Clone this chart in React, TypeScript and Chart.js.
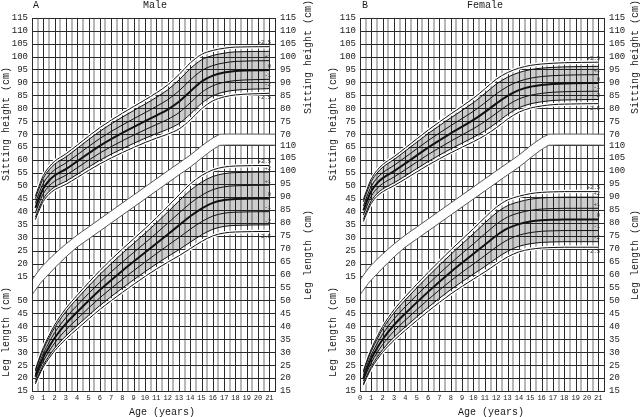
import React, { useEffect, useRef } from 'react';
import { Chart, registerables } from 'chart.js';
Chart.register(...registerables);

// ---------- data ----------
const AGES = [0.3, 0.6, 1, 1.5, 2, 3, 4, 6, 8, 10, 11, 12, 13, 14, 15, 16, 17, 18, 21];
const X_TICKS = [0, 1, 2, 3, 4, 5, 6, 7, 8, 9, 10, 11, 12, 13, 14, 15, 16, 17, 18, 19, 20, 21];
const SIT_OFFSET = 44.25; // vertical shift of the sitting-height grid relative to the leg-length grid
const LEFT_SIT_TICKS = [15, 20, 25, 30, 35, 40, 45, 50, 55, 60, 65, 70, 75, 80, 85, 90, 95, 100, 105, 110, 115];
const LEFT_LEG_TICKS = [15, 20, 25, 30, 35, 40, 45, 50];
const RIGHT_SIT_TICKS = [70, 75, 80, 85, 90, 95, 100, 105, 110, 115];
const RIGHT_LEG_TICKS = [15, 20, 25, 30, 35, 40, 45, 50, 55, 60, 65, 70, 75, 80, 85, 90, 95, 100, 105, 110];
const Z_LABELS = ['-2.5', '-2', '-1', '0', '+1', '+2', '+2.5'];

// Male sitting height (cm)
const mSitM25 = [37.0, 40.25, 44, 46.75, 48.5, 50.6, 53.25, 58.5, 62.9, 66.75, 68.45, 70, 72, 75.5, 79.8, 82.85, 84.4, 85.15, 85.8];
const mSitM2 = [37.9, 41.2, 45, 47.8, 49.6, 51.8, 54.5, 59.9, 64.4, 68.4, 70.2, 71.9, 74.1, 77.7, 81.9, 84.8, 86.3, 87, 87.6];
const mSitM1 = [39.7, 43.1, 47, 49.9, 51.8, 54.15, 57, 62.7, 67.45, 71.7, 73.7, 75.7, 78.3, 82.1, 86.1, 88.7, 90.05, 90.7, 91.2];
const mSit0 = [41.5, 45, 49, 52, 54, 56.5, 59.5, 65.5, 70.5, 75, 77.2, 79.5, 82.5, 86.5, 90.3, 92.6, 93.8, 94.4, 94.8];
const mSitP1 = [43.3, 46.9, 51, 54.1, 56.2, 58.85, 62, 68.3, 73.55, 78.3, 80.7, 83.3, 86.7, 90.9, 94.5, 96.5, 97.55, 98.1, 98.4];
const mSitP2 = [45.1, 48.8, 53, 56.2, 58.4, 61.2, 64.5, 71.1, 76.6, 81.6, 84.2, 87.1, 90.9, 95.3, 98.7, 100.4, 101.3, 101.8, 102];
const mSitP25 = [46.0, 49.75, 54, 57.25, 59.5, 62.4, 65.75, 72.5, 78.1, 83.25, 85.95, 89, 93, 97.5, 100.8, 102.35, 103.2, 103.65, 103.8];

// Male leg length (cm)
const mLegM25 = [17.75, 20.75, 24.25, 27.6, 30.5, 35.1, 39, 46.5, 53.1, 59.25, 62.1, 64.75, 67.25, 70, 72.75, 74.95, 76.05, 76.45, 76.65];
const mLegM2 = [18.3, 21.4, 25, 28.5, 31.5, 36.3, 40.3, 48, 54.8, 61.1, 64.1, 66.9, 69.6, 72.5, 75.3, 77.5, 78.6, 79, 79.2];
const mLegM1 = [19.4, 22.7, 26.5, 30.25, 33.5, 38.65, 42.9, 51, 58.15, 64.8, 68.05, 71.2, 74.3, 77.5, 80.4, 82.6, 83.7, 84.1, 84.3];
const mLeg0 = [20.5, 24, 28, 32, 35.5, 41, 45.5, 54, 61.5, 68.5, 72, 75.5, 79, 82.5, 85.5, 87.7, 88.8, 89.2, 89.4];
const mLegP1 = [21.6, 25.3, 29.5, 33.75, 37.5, 43.35, 48.1, 57, 64.85, 72.2, 75.95, 79.8, 83.7, 87.5, 90.6, 92.8, 93.9, 94.3, 94.5];
const mLegP2 = [22.7, 26.6, 31, 35.5, 39.5, 45.7, 50.7, 60, 68.2, 75.9, 79.9, 84.1, 88.4, 92.5, 95.7, 97.9, 99, 99.4, 99.6];
const mLegP25 = [23.25, 27.25, 31.75, 36.4, 40.5, 46.9, 52, 61.5, 69.9, 77.75, 81.9, 86.25, 90.75, 95, 98.25, 100.45, 101.55, 101.95, 102.15];

// Female sitting height (cm)
const fSitM25 = [36.25, 39.5, 43.25, 46, 47.75, 50.1, 52.7, 58.05, 62.8, 67.1, 69.5, 72.45, 75.8, 78.5, 80.05, 80.9, 81.4, 81.6, 81.8];
const fSitM2 = [37.1, 40.4, 44.2, 47, 48.8, 51.2, 53.9, 59.4, 64.3, 68.8, 71.3, 74.3, 77.6, 80.2, 81.7, 82.5, 83, 83.2, 83.4];
const fSitM1 = [38.8, 42.2, 46.1, 49, 50.9, 53.45, 56.3, 62.1, 67.3, 72.15, 74.9, 78.05, 81.2, 83.6, 85, 85.75, 86.2, 86.4, 86.6];
const fSit0 = [40.5, 44, 48, 51, 53, 55.7, 58.7, 64.8, 70.3, 75.5, 78.5, 81.8, 84.8, 87, 88.3, 89, 89.4, 89.6, 89.8];
const fSitP1 = [42.2, 45.8, 49.9, 53, 55.1, 57.95, 61.1, 67.5, 73.3, 78.85, 82.1, 85.55, 88.4, 90.4, 91.6, 92.25, 92.6, 92.8, 93];
const fSitP2 = [43.9, 47.6, 51.8, 55, 57.2, 60.2, 63.5, 70.2, 76.3, 82.2, 85.7, 89.3, 92, 93.8, 94.9, 95.5, 95.8, 96, 96.2];
const fSitP25 = [44.75, 48.5, 52.75, 56, 58.25, 61.3, 64.7, 71.55, 77.8, 83.9, 87.5, 91.2, 93.8, 95.5, 96.55, 97.1, 97.4, 97.6, 97.8];

// Female leg length (cm)
const fLegM25 = [17.25, 20.25, 23.75, 27.1, 30, 34.6, 38.5, 45.8, 52.5, 58.25, 61, 64, 66.8, 68.75, 69.75, 70.25, 70.45, 70.55, 70.55];
const fLegM2 = [17.8, 20.9, 24.5, 28, 31, 35.8, 39.8, 47.3, 54.2, 60.2, 63.1, 66.2, 69, 70.9, 71.9, 72.4, 72.6, 72.7, 72.7];
const fLegM1 = [18.9, 22.2, 26, 29.75, 33, 38.15, 42.4, 50.3, 57.6, 64.1, 67.3, 70.6, 73.4, 75.2, 76.2, 76.7, 76.9, 77, 77];
const fLeg0 = [20, 23.5, 27.5, 31.5, 35, 40.5, 45, 53.3, 61, 68, 71.5, 75, 77.8, 79.5, 80.5, 81, 81.2, 81.3, 81.3];
const fLegP1 = [21.1, 24.8, 29, 33.25, 37, 42.85, 47.6, 56.3, 64.4, 71.9, 75.7, 79.4, 82.2, 83.8, 84.8, 85.3, 85.5, 85.6, 85.6];
const fLegP2 = [22.2, 26.1, 30.5, 35, 39, 45.2, 50.2, 59.3, 67.8, 75.8, 79.9, 83.8, 86.6, 88.1, 89.1, 89.6, 89.8, 89.9, 89.9];
const fLegP25 = [22.75, 26.75, 31.25, 35.9, 40, 46.4, 51.5, 60.8, 69.5, 77.75, 82, 86, 88.8, 90.25, 91.25, 91.75, 91.95, 92.05, 92.05];

// White separating band: upper edge in sitting-height cm, lower edge in leg-length cm
const BAND_AGES = [0, 0.5, 1, 2, 3, 4, 5, 6, 7, 8, 9, 10, 11, 12, 13, 14, 15, 16, 16.5, 17, 21.5];
const maleBandTop = [13.6, 16.7, 19.4, 23.7, 27.55, 31.0, 34.1, 37.2, 40.3, 43.4, 46.5, 49.6, 52.7, 55.8, 58.85, 61.9, 65.4, 68.5, 69.6, 70, 70];
const maleBandBottom = [52.1, 55.2, 57.9, 62.5, 66.8, 70.6, 73.7, 76.8, 79.9, 83.0, 86.1, 89.2, 92.3, 95.4, 98.5, 101.5, 105.0, 108.3, 109.5, 110, 110];
const femaleBandTop = [13.6, 16.7, 19.4, 23.7, 27.55, 31.0, 34.1, 37.2, 40.3, 43.4, 46.5, 49.6, 52.7, 55.8, 58.85, 61.9, 65.4, 68.5, 69.6, 70, 70];
const femaleBandBottom = [52.1, 55.2, 57.9, 62.5, 66.8, 70.6, 73.7, 76.8, 79.9, 83.0, 86.1, 89.2, 92.3, 95.4, 98.5, 101.5, 105.0, 108.3, 109.5, 110, 110];

const PANELS = [
  {
    letter: 'A', name: 'Male',
    sit: [mSitM25, mSitM2, mSitM1, mSit0, mSitP1, mSitP2, mSitP25],
    leg: [mLegM25, mLegM2, mLegM1, mLeg0, mLegP1, mLegP2, mLegP25],
    bandTop: maleBandTop, bandBottom: maleBandBottom,
    leftW: 32, rightW: 45, letterX: 33, nameX: 155, leftTitleX: 6, rightTitleX: 308, ageX: 162,
  },
  {
    letter: 'B', name: 'Female',
    sit: [fSitM25, fSitM2, fSitM1, fSit0, fSitP1, fSitP2, fSitP25],
    leg: [fLegM25, fLegM2, fLegM1, fLeg0, fLegP1, fLegP2, fLegP25],
    bandTop: femaleBandTop, bandBottom: femaleBandBottom,
    leftW: 40, rightW: 36, letterX: 42, nameX: 165, leftTitleX: 13, rightTitleX: 315, ageX: 171,
  },
];

// ---------- drawing helpers ----------
const FONT = "'Liberation Mono', 'DejaVu Sans Mono', monospace";
const INK = '#1a1a1a';

function smoothThrough(ctx: CanvasRenderingContext2D, pts: number[][], move: boolean) {
  if (move) ctx.moveTo(pts[0][0], pts[0][1]);
  else ctx.lineTo(pts[0][0], pts[0][1]);
  for (let i = 0; i < pts.length - 1; i++) {
    const p0 = pts[i - 1] || pts[i];
    const p1 = pts[i];
    const p2 = pts[i + 1];
    const p3 = pts[i + 2] || p2;
    ctx.bezierCurveTo(
      p1[0] + (p2[0] - p0[0]) / 6, p1[1] + (p2[1] - p0[1]) / 6,
      p2[0] - (p3[0] - p1[0]) / 6, p2[1] - (p3[1] - p1[1]) / 6,
      p2[0], p2[1]
    );
  }
}

const gridPlugin = {
  id: 'customGrid',
  beforeDatasetsDraw(chart: any, _a: any, opts: any) {
    const p = opts.panel;
    const { ctx, chartArea: ca } = chart;
    const xs = chart.scales.x;
    const ys = chart.scales.y;
    const L = ca.left, R = ca.right, T = ca.top, B = ca.bottom;
    const top = BAND_AGES.map((a, i) => [xs.getPixelForValue(a), ys.getPixelForValue(p.bandTop[i] + SIT_OFFSET)]);
    const bot = BAND_AGES.map((a, i) => [xs.getPixelForValue(a), ys.getPixelForValue(p.bandBottom[i])]);
    ctx.save();
    ctx.fillStyle = '#fff';
    ctx.fillRect(L, T, R - L, B - T);
    ctx.beginPath();
    ctx.rect(L, T, R - L, B - T);
    ctx.clip();
    // vertical lines every half year
    for (let a = 0.5; a < 21.5; a += 1) {
      const x = Math.round(xs.getPixelForValue(a));
      ctx.strokeStyle = '#b8b8b8';
      ctx.lineWidth = 2;
      ctx.beginPath(); ctx.moveTo(x, T); ctx.lineTo(x, B); ctx.stroke();
    }
    for (let a = 1; a < 21.5; a += 1) {
      const x = Math.round(xs.getPixelForValue(a)) + 0.5;
      ctx.strokeStyle = '#2a2a2a';
      ctx.lineWidth = 1;
      ctx.beginPath(); ctx.moveTo(x, T); ctx.lineTo(x, B); ctx.stroke();
    }
    // sitting grid (above band)
    ctx.save();
    ctx.beginPath();
    smoothThrough(ctx, top, true);
    ctx.lineTo(R + 2, T - 2); ctx.lineTo(L - 2, T - 2); ctx.closePath();
    ctx.clip();
    ctx.strokeStyle = '#2a2a2a'; ctx.lineWidth = 1;
    LEFT_SIT_TICKS.forEach((v) => {
      const y = Math.round(ys.getPixelForValue(v + SIT_OFFSET)) + 0.5;
      ctx.beginPath(); ctx.moveTo(L, y); ctx.lineTo(R, y); ctx.stroke();
    });
    ctx.restore();
    // leg grid (below band)
    ctx.save();
    ctx.beginPath();
    smoothThrough(ctx, bot, true);
    ctx.lineTo(R + 2, B + 2); ctx.lineTo(L - 2, B + 2); ctx.closePath();
    ctx.clip();
    ctx.strokeStyle = '#2a2a2a'; ctx.lineWidth = 1;
    RIGHT_LEG_TICKS.forEach((v) => {
      const y = Math.round(ys.getPixelForValue(v)) + 0.5;
      ctx.beginPath(); ctx.moveTo(L, y); ctx.lineTo(R, y); ctx.stroke();
    });
    ctx.restore();
    // band
    ctx.beginPath();
    smoothThrough(ctx, top, true);
    smoothThrough(ctx, bot.slice().reverse(), false);
    ctx.closePath();
    ctx.fillStyle = '#fff';
    ctx.fill();
    ctx.strokeStyle = '#555'; ctx.lineWidth = 1;
    ctx.beginPath(); smoothThrough(ctx, top, true); ctx.stroke();
    ctx.beginPath(); smoothThrough(ctx, bot, true); ctx.stroke();
    ctx.restore();
    // frame
    ctx.save();
    ctx.strokeStyle = '#2a2a2a'; ctx.lineWidth = 1;
    ctx.strokeRect(Math.round(L) + 0.5, Math.round(T) + 0.5, Math.round(R - L), Math.round(B - T));
    ctx.restore();
  },
  afterDatasetsDraw(chart: any, _a: any, opts: any) {
    const p = opts.panel;
    const { ctx, chartArea: ca } = chart;
    const ys = chart.scales.y;
    const last = AGES.length - 1;
    ctx.save();
    ctx.font = `5.5px ${FONT}`;
    ctx.fillStyle = '#333';
    ctx.textAlign = 'right';
    const put = (arr: number[][], off: number, skipPlus2: boolean) => {
      arr.forEach((s, k) => {
        if (skipPlus2 && k === 5) return;
        const y = ys.getPixelForValue(s[last] + off);
        if (k === 0) { ctx.textBaseline = 'top'; ctx.fillText(Z_LABELS[k], ca.right - 4, y + 2); }
        else { ctx.textBaseline = 'bottom'; ctx.fillText(Z_LABELS[k], ca.right - 4, y - 1); }
      });
    };
    put(p.sit, SIT_OFFSET, true);
    put(p.leg, 0, false);
    ctx.restore();
  },
  afterDraw(chart: any, _a: any, opts: any) {
    const p = opts.panel;
    const { ctx } = chart;
    ctx.save();
    ctx.fillStyle = INK;
    ctx.font = `10px ${FONT}`;
    ctx.textBaseline = 'middle';
    ctx.textAlign = 'left';
    ctx.fillText(p.letter, p.letterX, 5);
    ctx.textAlign = 'center';
    ctx.fillText(p.name, p.nameX, 5);
    ctx.fillText('Age (years)', p.ageX, 412);
    const vt = (t: string, x: number, y: number) => {
      ctx.save(); ctx.translate(x, y); ctx.rotate(-Math.PI / 2); ctx.fillText(t, 0, 0); ctx.restore();
    };
    vt('Sitting height (cm)', p.leftTitleX, 124);
    vt('Leg length (cm)', p.leftTitleX, 332);
    vt('Sitting height (cm)', p.rightTitleX, 57);
    vt('Leg length (cm)', p.rightTitleX, 255);
    ctx.restore();
  },
};

function buildConfig(p: any) {
  const datasets: any[] = [];
  const addRegion = (series: number[][], off: number) => {
    const mk = (arr: number[]) => AGES.map((a, i) => ({ x: a, y: arr[i] + off }));
    [0, 6].forEach((k) => datasets.push({
      data: mk(series[k]), borderColor: '#ffffff', borderWidth: 3.5, pointRadius: 0,
      cubicInterpolationMode: 'monotone', fill: false, order: 5,
    }));
    const base = datasets.length;
    series.forEach((arr, k) => datasets.push({
      data: mk(arr), borderColor: '#111', borderWidth: k === 3 ? 2 : 1, pointRadius: 0,
      cubicInterpolationMode: 'monotone', order: k === 3 ? 0 : 1,
      fill: k === 5 ? base + 1 : false, backgroundColor: 'rgba(0,0,0,0.2)',
    }));
  };
  addRegion(p.sit, SIT_OFFSET);
  addRegion(p.leg, 0);

  const leftVals = [...LEFT_LEG_TICKS, ...LEFT_SIT_TICKS.map((v) => v + SIT_OFFSET)];
  const rightVals = [...RIGHT_LEG_TICKS, ...RIGHT_SIT_TICKS.map((v) => v + SIT_OFFSET)];
  const yMin = 15, yMax = 115 + SIT_OFFSET;
  const tickFont = { family: FONT, size: 9 };
  return {
    type: 'line',
    data: { datasets },
    plugins: [gridPlugin],
    options: {
      responsive: false,
      animation: false,
      devicePixelRatio: 1,
      events: [],
      layout: { padding: { top: 17.7, bottom: 0, left: 0, right: 0 } },
      plugins: {
        legend: { display: false },
        tooltip: { enabled: false },
        title: { display: false },
        customGrid: { panel: p },
      },
      scales: {
        x: {
          type: 'linear', min: 0, max: 21.5, position: 'bottom',
          grid: { display: false, drawTicks: false }, border: { display: false },
          ticks: { font: { family: FONT, size: 7 }, color: INK, padding: 3, autoSkip: false, maxRotation: 0, callback: (v: any) => String(v) },
          afterBuildTicks: (s: any) => { s.ticks = X_TICKS.map((v) => ({ value: v })); },
          afterFit: (s: any) => { s.height = 26; },
        },
        y: {
          type: 'linear', min: yMin, max: yMax, position: 'left',
          grid: { display: false, drawTicks: false }, border: { display: false },
          ticks: {
            font: tickFont, color: INK, padding: 4, autoSkip: false,
            callback: (v: any) => { const n = Number(v); return LEFT_LEG_TICKS.includes(n) ? String(n) : String(Math.round(n - SIT_OFFSET)); },
          },
          afterBuildTicks: (s: any) => { s.ticks = leftVals.map((v) => ({ value: v })); },
          afterFit: (s: any) => { s.width = p.leftW; },
        },
        y2: {
          type: 'linear', min: yMin, max: yMax, position: 'right',
          grid: { display: false, drawTicks: false }, border: { display: false },
          ticks: {
            font: tickFont, color: INK, padding: 5, autoSkip: false,
            callback: (v: any) => { const n = Number(v); return RIGHT_LEG_TICKS.includes(n) ? String(n) : String(Math.round(n - SIT_OFFSET)); },
          },
          afterBuildTicks: (s: any) => { s.ticks = rightVals.map((v) => ({ value: v })); },
          afterFit: (s: any) => { s.width = p.rightW; },
        },
      },
    },
  } as any;
}

function Panel({ p }: { p: any }) {
  const ref = useRef<HTMLCanvasElement>(null);
  useEffect(() => {
    const chart = new Chart(ref.current as HTMLCanvasElement, buildConfig(p));
    return () => chart.destroy();
  }, [p]);
  return <canvas ref={ref} width={320} height={417} style={{ display: 'block', width: 320, height: 417 }} />;
}

export default function App() {
  return (
    <div style={{ position: 'absolute', left: 0, top: 0, width: 640, height: 417, display: 'flex', background: '#fff' }}>
      <Panel p={PANELS[0]} />
      <Panel p={PANELS[1]} />
    </div>
  );
}
